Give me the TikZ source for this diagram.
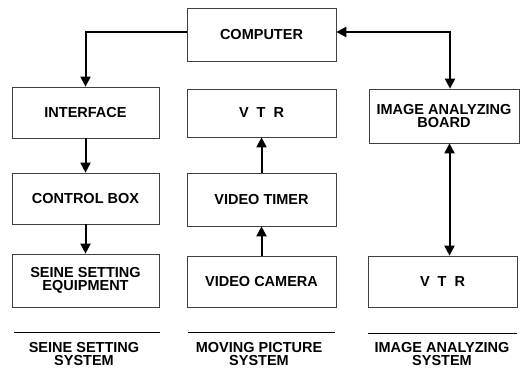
\documentclass[tikz,border=0pt]{standalone}
\usepackage{fontspec}
\setmainfont{Liberation Sans}
\usetikzlibrary{arrows.meta}
\begin{document}
\begin{tikzpicture}[x=1pt,y=-1pt,
  box/.style={draw=black!75, line width=0.7pt, inner sep=0pt, align=center,
    font=\fontsize{14.5}{13}\selectfont\bfseries},
  lbl/.style={inner sep=0pt, align=center, font=\fontsize{14.5}{13}\selectfont\bfseries},
  arr/.style={line width=2pt, -{Triangle[width=10pt,length=10pt]}},
  darr/.style={line width=2pt, {Triangle[width=10pt,length=10pt]}-{Triangle[width=10pt,length=10pt]}},
  rule/.style={line width=1pt}]
\useasboundingbox (0,0) rectangle (522,382);

\node[box, minimum width=149pt, minimum height=53pt] (computer) at (261.5,34.5) {COMPUTER};
\node[box, minimum width=147pt, minimum height=51pt] (interface) at (85.5,112.5) {INTERFACE};
\node[box, minimum width=149pt, minimum height=48pt] (vtra) at (261.5,113) {V\hspace{0.55em}T\hspace{0.55em}R};
\node[box, minimum width=150pt, minimum height=54pt] (board) at (444,116) {IMAGE ANALYZING\\BOARD};
\node[box, minimum width=147pt, minimum height=51pt] (control) at (85.5,198.5) {CONTROL BOX};
\node[box, minimum width=149pt, minimum height=53pt] (timer) at (261.5,199.5) {VIDEO TIMER};
\node[box, minimum width=147pt, minimum height=53pt] (seine) at (85.5,280.5) {SEINE SETTING\\EQUIPMENT};
\node[box, minimum width=149pt, minimum height=51pt] (camera) at (261.5,281.5) {VIDEO CAMERA};
\node[box, minimum width=149pt, minimum height=51pt] (vtrb) at (442.5,281.5) {V\hspace{0.55em}T\hspace{0.55em}R};

% arrows
\draw[arr] ([yshift=2.5pt]computer.west) -| (interface.north);
\draw[darr] ([yshift=2.5pt]computer.east) -| ([xshift=6pt]board.north);
\draw[arr] (interface.south) -- (control.north);
\draw[arr] (control.south) -- (seine.north);
\draw[arr] (camera.north) -- (timer.south);
\draw[arr] (timer.north) -- (vtra.south);
\coordinate (bb) at ([xshift=5.5pt]board.south);
\draw[darr] (bb) -- (bb |- vtrb.north);

% system rules and labels
\coordinate (r1a) at (14,332); \coordinate (r1b) at (160,332);
\coordinate (r2a) at (188,332); \coordinate (r2b) at (335,332);
\coordinate (r3a) at (368,333); \coordinate (r3b) at (517,333);
\draw[rule] (r1a) -- (r1b);
\draw[rule] (r2a) -- (r2b);
\draw[rule] (r3a) -- (r3b);
\node[lbl] (l1) at (84,354.5) {SEINE SETTING\\SYSTEM};
\node[lbl] (l2) at (259,354.5) {MOVING PICTURE\\SYSTEM};
\node[lbl] (l3) at (442,354.5) {IMAGE ANALYZING\\SYSTEM};
\end{tikzpicture}
\end{document}
